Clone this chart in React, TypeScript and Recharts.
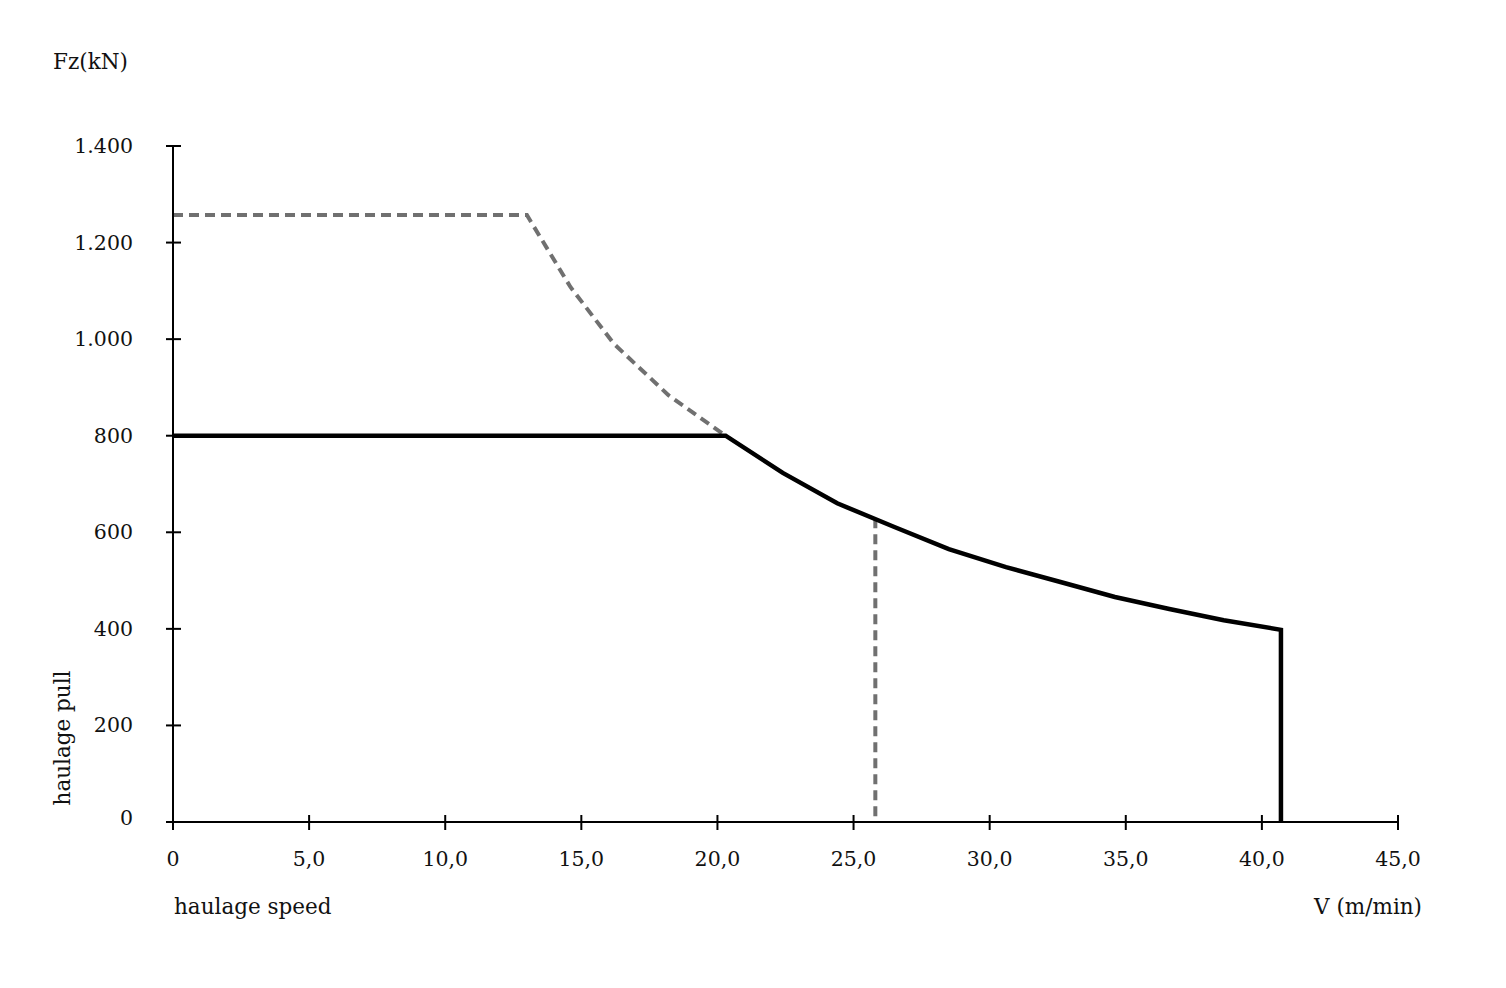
import React from 'react';
import { LineChart, Line, XAxis, YAxis } from 'recharts';

// haulage speed (m/min) vs haulage pull (kN)
const ratedSpeed = [0, 20.3, 22.4, 24.4, 26.5, 28.5, 30.6, 32.6, 34.6, 36.6, 38.6, 40.7, 40.7];
const ratedPull = [800, 800, 723, 660, 611, 565, 528, 497, 466, 441, 418, 398, 0];

const peakSpeed = [0, 13.0, 14.6, 16.2, 18.2, 20.3];
const peakPull = [1257, 1257, 1108, 990, 884, 800];

const limitSpeed = [25.8, 25.8];
const limitPull = [629, 0];

const xTicks = [0, 5, 10, 15, 20, 25, 30, 35, 40, 45];
const yTicks = [0, 200, 400, 600, 800, 1000, 1200, 1400];

const toRows = (xs: number[], ys: number[]) => xs.map((v, i) => ({ v, f: ys[i] }));

const W = 1490;
const H = 960;
const AXIS_X = 165;
const AXIS_Y = 814;
const FONT = '"DejaVu Serif", serif';

const fmtX = (v: number) => (v === 0 ? '0' : v.toFixed(1).replace('.', ','));
const fmtY = (v: number) => v.toLocaleString('de-DE');

const XTick = (props: any) => {
  const { x, payload } = props;
  return (
    <g>
      <line x1={x} x2={x} y1={AXIS_Y - 7} y2={AXIS_Y + 8} stroke="#000" strokeWidth={2} />
      <text x={x} y={AXIS_Y + 44} textAnchor="middle" fontFamily={FONT} fontSize={20.5} fill="#111">
        {fmtX(payload.value)}
      </text>
    </g>
  );
};

const YTick = (props: any) => {
  const { y, payload } = props;
  return (
    <g>
      <line x1={AXIS_X - 7} x2={AXIS_X + 8} y1={y} y2={y} stroke="#000" strokeWidth={2} />
      <text x={125} y={y - (payload.value === 0 ? 4 : 0)} dy={7} textAnchor="end" fontFamily={FONT} fontSize={20.5} fill="#111">
        {fmtY(payload.value)}
      </text>
    </g>
  );
};

export default function App() {
  return (
    <div style={{ position: 'relative', width: W, height: H, background: '#fff' }}>
      <LineChart width={W} height={H} margin={{ top: 138, right: 100, bottom: 0, left: 0 }}>
        <XAxis
          type="number"
          dataKey="v"
          domain={[0, 45]}
          ticks={xTicks}
          tick={<XTick />}
          tickLine={false}
          axisLine={{ stroke: '#000', strokeWidth: 2 }}
          allowDataOverflow
          height={H - AXIS_Y}
        />
        <YAxis
          type="number"
          dataKey="f"
          domain={[0, 1400]}
          ticks={yTicks}
          tick={<YTick />}
          tickLine={false}
          axisLine={{ stroke: '#000', strokeWidth: 2 }}
          width={AXIS_X}
        />
        <Line
          data={toRows(peakSpeed, peakPull)}
          dataKey="f"
          stroke="#707070"
          strokeWidth={4}
          strokeDasharray="10 6"
          dot={false}
          isAnimationActive={false}
        />
        <Line
          data={toRows(limitSpeed, limitPull)}
          dataKey="f"
          stroke="#707070"
          strokeWidth={4}
          strokeDasharray="10 6"
          dot={false}
          isAnimationActive={false}
        />
        <Line
          data={toRows(ratedSpeed, ratedPull)}
          dataKey="f"
          stroke="#000"
          strokeWidth={4.5}
          strokeLinejoin="miter"
          dot={false}
          isAnimationActive={false}
        />
      </LineChart>
      <svg width={W} height={H} style={{ position: 'absolute', left: 0, top: 0, pointerEvents: 'none' }}>
        <g fontFamily={FONT} fontSize={21.5} fill="#111">
          <text x={45} y={61}>Fz(kN)</text>
          <text x={0} y={0} textAnchor="middle" transform="translate(62 730) rotate(-90)">haulage pull</text>
          <text x={166} y={906}>haulage speed</text>
          <text x={1414} y={906} textAnchor="end">V (m/min)</text>
        </g>
      </svg>
    </div>
  );
}
